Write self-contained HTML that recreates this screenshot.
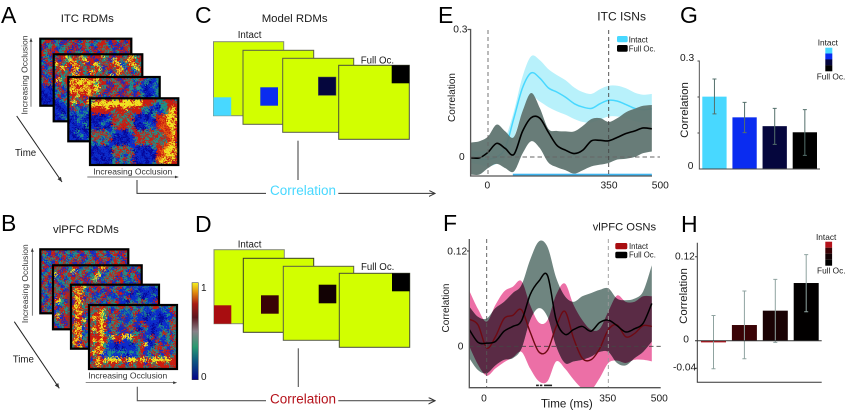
<!DOCTYPE html>
<html lang="en">
<head>
<meta charset="utf-8">
<title>ITC and vlPFC RDM correlation figure</title>
<style>
html,body{margin:0;padding:0;background:#fff;width:846px;height:411px;overflow:hidden}
svg{display:block}
text{font-family:"Liberation Sans",sans-serif;fill:#1a1a1a}
.letter{font-size:23px;fill:#000}
.title{font-size:11.4px}
.tick{font-size:10.2px}
.ax{font-size:10px}
.ann{font-size:9.7px}
.occ{font-size:8.5px;fill:#333}
.leg{font-size:7.8px}
.leg2{font-size:8.3px}
.ylab{font-size:11.4px}
</style>
</head>
<body>
<svg id="fig" xmlns="http://www.w3.org/2000/svg" width="846" height="411" viewBox="0 0 846 411">
<defs>
<linearGradient id="cbar" x1="0" y1="0" x2="0" y2="1">
<stop offset="0" stop-color="#f4f020"/><stop offset=".1" stop-color="#e08a10"/><stop offset=".22" stop-color="#a81a14"/><stop offset=".36" stop-color="#5c1620"/><stop offset=".5" stop-color="#8a8088"/><stop offset=".66" stop-color="#2a9a70"/><stop offset=".8" stop-color="#0f5a80"/><stop offset="1" stop-color="#04048a"/>
</linearGradient>
<marker id="ah" markerWidth="7" markerHeight="7" refX="6" refY="3" orient="auto"><path d="M0,0 L6,3 L0,6" fill="none" stroke="#333" stroke-width="1"/></marker>
<marker id="ahs" markerWidth="6" markerHeight="6" refX="5" refY="2.5" orient="auto"><path d="M0,0.4 L5,2.5 L0,4.6 Z" fill="#333"/></marker>
<clipPath id="clipE"><rect x="470" y="29" width="190" height="147"/></clipPath>
<clipPath id="clipF"><rect x="469" y="236" width="192" height="151.7"/></clipPath>
<filter id="rdmGrain" x="0" y="0" width="100%" height="100%" color-interpolation-filters="sRGB">
<feTurbulence type="fractalNoise" baseFrequency="0.62" numOctaves="2" seed="7" result="grain"/>
<feDisplacementMap in="SourceGraphic" in2="grain" scale="11" xChannelSelector="R" yChannelSelector="G"/>
</filter>
</defs>
<rect width="846" height="411" fill="#fff"/>

<text class="letter" x="1" y="23">A</text>
<text class="letter" x="1" y="231">B</text>
<text class="letter" x="195" y="23">C</text>
<text class="letter" x="195" y="232">D</text>
<text class="letter" x="438" y="23">E</text>
<text class="letter" x="443" y="231">F</text>
<text class="letter" x="680" y="23">G</text>
<text class="letter" x="681" y="232">H</text>

<text class="title" x="60.7" y="22">ITC RDMs</text>
<text class="title" x="53" y="233">vlPFC RDMs</text>
<text class="title" x="261.7" y="22">Model RDMs</text>

<g id="rdmA"></g>
<g id="rdmB"></g>

<g>
<text class="occ" transform="translate(27.5,75) rotate(-90)" text-anchor="middle">Increasing Occlusion</text>
<line x1="31" y1="106.7" x2="31" y2="38.3" stroke="#444" stroke-width=".7" marker-end="url(#ahs)"/>
<text class="occ" x="93.3" y="174.3">Increasing Occlusion</text>
<line x1="87.3" y1="177" x2="178.3" y2="177" stroke="#444" stroke-width=".7" marker-end="url(#ahs)"/>
<text class="ann" x="15" y="156">Time</text>
<line x1="16.7" y1="116" x2="62" y2="182" stroke="#222" stroke-width="1" marker-end="url(#ahs)"/>
</g>
<g>
<text class="occ" transform="translate(28,283.7) rotate(-90)" text-anchor="middle">Increasing Occlusion</text>
<line x1="32.3" y1="315.7" x2="32.3" y2="248.3" stroke="#444" stroke-width=".7" marker-end="url(#ahs)"/>
<text class="occ" x="88.3" y="378.3">Increasing Occlusion</text>
<line x1="85.7" y1="382.7" x2="176.7" y2="382.7" stroke="#444" stroke-width=".7" marker-end="url(#ahs)"/>
<text class="ann" x="12.7" y="362.7">Time</text>
<line x1="14.3" y1="321.7" x2="59.3" y2="388.3" stroke="#222" stroke-width="1" marker-end="url(#ahs)"/>
</g>

<g>
<rect x="192" y="282.7" width="6.3" height="97" fill="url(#cbar)" stroke="#333" stroke-width=".5"/>
<text class="ax" x="201" y="291">1</text>
<text class="ax" x="201" y="380">0</text>
</g>

<g stroke-width="1">
<text class="ann" x="237.7" y="38">Intact</text>
<text class="ann" x="360.7" y="63.3">Full Oc.</text>
<rect x="213.5" y="41.7" width="70.2" height="74" fill="#d2ff00" stroke="#858a78"/>
<rect x="213.5" y="97.3" width="17.7" height="18.4" fill="#48d8ff"/>
<rect x="243" y="50.3" width="70.7" height="74" fill="#d2ff00" stroke="#5a5f48"/>
<rect x="260.3" y="87.3" width="17.7" height="18.4" fill="#0a2cf0"/>
<rect x="282.7" y="58.3" width="71" height="74" fill="#d2ff00" stroke="#5a5f48"/>
<rect x="318.3" y="77" width="17.7" height="18.4" fill="#05063d" stroke="#5a5f48" stroke-width=".5"/>
<rect x="338.7" y="65.3" width="70.6" height="74" fill="#d2ff00" stroke="#4a4f38"/>
<rect x="391.7" y="65.3" width="17.7" height="18" fill="#000"/>
</g>
<g stroke-width="1">
<text class="ann" x="237.7" y="247.3">Intact</text>
<text class="ann" x="361" y="270">Full Oc.</text>
<rect x="214" y="249.7" width="70.3" height="74" fill="#d2ff00" stroke="#858a78"/>
<rect x="214" y="305.3" width="17.3" height="18.4" fill="#a80d10"/>
<rect x="243.3" y="258.3" width="70.4" height="74" fill="#d2ff00" stroke="#3a3f28"/>
<rect x="261" y="295.3" width="17.7" height="18.4" fill="#3a0306"/>
<rect x="283.3" y="266.3" width="70.4" height="74" fill="#d2ff00" stroke="#5a5f48"/>
<rect x="318.7" y="284.7" width="17.6" height="18.6" fill="#120204"/>
<rect x="339.3" y="273.3" width="70.4" height="74" fill="#d2ff00" stroke="#4a4f38"/>
<rect x="392" y="273.3" width="17.7" height="18" fill="#000"/>
</g>

<g fill="none" stroke="#333" stroke-width="1">
<path d="M137,180 V193.4 H266"/>
<line x1="298" y1="140.7" x2="298" y2="180" stroke="#666" stroke-width="1.3"/>
<line x1="338.3" y1="193.4" x2="435" y2="193.4" marker-end="url(#ah)"/>
</g>
<text x="270" y="195" style="font-size:13.5px;fill:#48d8ff">Correlation</text>
<g fill="none" stroke="#555" stroke-width="1.1">
<path d="M137.3,386.7 V400.7 H266"/>
<line x1="298.3" y1="348.3" x2="298.3" y2="387" stroke="#555"/>
<line x1="338.3" y1="400.7" x2="435" y2="400.7" marker-end="url(#ah)"/>
</g>
<text x="270" y="403.3" style="font-size:13.5px;fill:#b5121b">Correlation</text>

<g id="chartE"></g>
<g>
<line x1="470" y1="157" x2="660" y2="157" stroke="#666" stroke-width=".9" stroke-dasharray="4.5 3"/>
<line x1="488" y1="30" x2="488" y2="176" stroke="#666" stroke-width=".9" stroke-dasharray="4 3"/>
<line x1="608.7" y1="30" x2="608.7" y2="176" stroke="#444" stroke-width=".9" stroke-dasharray="4 3"/>
<path d="M467.5,29.5 H470.6 V176 H652" fill="none" stroke="#555" stroke-width="1.3"/>
<text class="tick" x="453.3" y="32.3">0.3</text>
<text class="tick" x="459" y="160">0</text>
<text class="tick" x="487.3" y="188.3" text-anchor="middle">0</text>
<text class="tick" x="609" y="188.3" text-anchor="middle">350</text>
<text class="tick" x="660.3" y="188.3" text-anchor="middle">500</text>
<text class="ax" transform="translate(455,97.5) rotate(-90)" text-anchor="middle">Correlation</text>
<text x="597.3" y="20.7" style="font-size:12px">ITC ISNs</text>
<rect x="617" y="36" width="10.7" height="6.3" rx="1.5" fill="#48d8ff"/>
<rect x="617" y="45" width="10.7" height="6.7" rx="1.5" fill="#000"/>
<text class="leg" x="628.7" y="42.3">Intact</text>
<text class="leg" x="628.7" y="51.3">Full Oc.</text>
</g>

<g id="chartF"></g>
<g>
<line x1="469" y1="346.3" x2="660.7" y2="346.3" stroke="#444" stroke-width=".9" stroke-dasharray="4.5 3"/>
<line x1="486.7" y1="239" x2="486.7" y2="388" stroke="#555" stroke-width=".9" stroke-dasharray="4 3"/>
<line x1="608.3" y1="239" x2="608.3" y2="388" stroke="#999" stroke-width=".9" stroke-dasharray="4 3"/>
<path d="M469.3,239 V387.7 H660.7 M467,251 H469.3" fill="none" stroke="#555" stroke-width="1.3"/>
<text class="tick" x="447.3" y="254.3">0.12</text>
<text class="tick" x="457.7" y="349.3">0</text>
<text class="tick" x="484" y="401.7" text-anchor="middle">0</text>
<text class="tick" x="607.7" y="401.7" text-anchor="middle">350</text>
<text class="tick" x="659.3" y="401.7" text-anchor="middle">500</text>
<text x="541" y="407.7" style="font-size:11.6px">Time (ms)</text>
<text class="ax" transform="translate(449,308) rotate(-90)" text-anchor="middle">Correlation</text>
<text x="592.7" y="230.7" style="font-size:11.2px">vlPFC OSNs</text>
<rect x="615.3" y="243" width="12" height="6.3" rx="1.5" fill="#a80d10"/>
<rect x="615.3" y="251.7" width="12" height="6.6" rx="1.5" fill="#000"/>
<text class="leg" x="629" y="249">Intact</text>
<text class="leg" x="629" y="257.7">Full Oc.</text>
</g>

<g id="chartG"></g>
<g>
<path d="M697.5,61 H699.3 V169 H820 M697.5,97 H699.3 M697.5,133 H699.3" fill="none" stroke="#444" stroke-width=".9"/>
<text class="tick" x="680" y="61">0.3</text>
<text class="tick" x="687.7" y="169">0</text>
<text class="ylab" transform="translate(688,110) rotate(-90)" text-anchor="middle">Correlation</text>
<text class="leg2" x="817.7" y="45.7">Intact</text>
<text class="leg2" x="816.7" y="79.3">Full Oc.</text>
<rect x="825.3" y="47.7" width="7" height="6" fill="#48d8ff"/>
<rect x="825.3" y="53.5" width="7" height="6" fill="#0a2cf0"/>
<rect x="825.3" y="59.4" width="7" height="6" fill="#05063d"/>
<rect x="825.3" y="65.3" width="7" height="6" fill="#000"/>
</g>

<g id="chartH"></g>
<g>
<path d="M697.3,242.7 V382.3 H821.7 M695,256.7 H697.3 M695,368.3 H697.3 M695,340.7 H821.7" fill="none" stroke="#333" stroke-width="1"/>
<text class="tick" x="675" y="259.3">0.12</text>
<text class="tick" x="683.3" y="342.7">0</text>
<text class="tick" x="673" y="370.7">-0.04</text>
<text class="ylab" transform="translate(687,296) rotate(-90)" text-anchor="middle">Correlation</text>
<text class="leg2" x="816" y="240">Intact</text>
<text class="leg2" x="817" y="273.3">Full Oc.</text>
<rect x="825.3" y="241.7" width="6.8" height="6" fill="#b5121b"/>
<rect x="825.3" y="247.7" width="6.8" height="6" fill="#3a0306"/>
<rect x="825.3" y="253.7" width="6.8" height="6" fill="#120204"/>
<rect x="825.3" y="259.7" width="6.8" height="6" fill="#000"/>
</g>
</svg>

<script>
/* ---------- time course data ---------- */
const timeMs = [-50,-25,0,25,50,75,100,125,150,175,200,225,250,275,300,325,350,375,400,425,450,475];

const itcIntactMean  = [0,-.005,-.005,0,.021,.091,.162,.197,.185,.162,.152,.140,.125,.117,.114,.125,.133,.131,.123,.114,.111,.113];
const itcIntactUpper = [.017,.013,.017,.025,.045,.107,.188,.236,.227,.206,.192,.180,.163,.152,.148,.159,.167,.167,.161,.151,.146,.148];
const itcIntactLower = [-.014,-.018,-.022,-.016,-.002,.045,.103,.141,.130,.117,.107,.099,.089,.082,.081,.088,.095,.095,.091,.084,.080,.080];
const itcFullMean    = [-.002,-.002,.011,.032,.020,.006,.060,.092,.091,.058,.027,.016,.008,.016,.038,.039,.038,.046,.055,.061,.068,.066];
const itcFullUpper   = [.034,.037,.048,.076,.060,.047,.107,.150,.115,.066,.061,.060,.060,.073,.089,.091,.082,.091,.105,.113,.120,.122];
const itcFullLower   = [-.041,-.041,-.026,-.016,-.026,-.034,.008,.037,.021,-.013,-.024,-.031,-.039,-.031,-.022,-.018,-.014,-.006,-.004,0,.009,.013];
const itcSignificant = [72,475];

const pfcIntactMean  = [.034,.027,-.002,.012,.035,.039,.046,.018,-.007,-.005,.025,.044,.010,-.015,-.017,-.003,.021,.027,.012,.016,.026,.025];
const pfcIntactUpper = [.070,.047,.031,.052,.069,.075,.082,.052,.030,.033,.065,.079,.052,.033,.021,.022,.044,.064,.056,.056,.063,.063];
const pfcIntactLower = [0,-.023,-.037,-.028,-.020,-.014,-.007,-.028,-.044,-.044,-.019,-.028,-.042,-.053,-.055,-.040,-.021,-.018,-.021,-.017,-.017,-.019];
const pfcFullMean    = [.021,.005,.004,.006,.019,.025,.032,.065,.082,.089,.033,.015,.021,.025,.019,.030,.033,.026,.018,.022,.029,.054];
const pfcFullUpper   = [.050,.037,.035,.048,.056,.067,.077,.109,.132,.125,.086,.063,.056,.063,.067,.071,.073,.060,.058,.060,.069,.102];
const pfcFullLower   = [-.015,-.030,-.034,-.024,-.017,-.015,-.003,.033,.048,.037,0,-.021,-.019,-.017,-.013,-.007,-.007,-.021,-.024,-.015,-.007,.006];
const pfcSignificant = [[142,150],[153,160],[165,188]];

/* ---------- bar data ---------- */
const occlusionLevels = ['intact','level-2','level-3','full-oc'];
const itcBarValues = [.201,.1435,.119,.102];
const itcBarHigh   = [.25,.185,.1685,.165];
const itcBarLow    = [.153,.101,.0685,.038];
const pfcBarValues = [-.0024,.0224,.0429,.0824];
const pfcBarHigh   = [.036,.071,.0876,.123];
const pfcBarLow    = [-.04,-.0257,-.0024,.0414];

/* ---------- RDM cell levels (0 low … 9 high) ---------- */
const itcRdm1 = ["377137173717371377173717","713731737137313773171737","173713371717371737317173","737173717337137173713717","7317","1737","3171","7137","1371","7137","3717","1737","1101","0110","1011","0101","1011"];
const itcRdm2 = ["377937793717793717737937","717397379771737197379737","973779737179373779137973","379717973737917737917397","737379173797373179737137","173737973173737917373773","7937","1737","3713","1371","3713","1137","0113","1011","1101","0131","1013"];
const itcRdm3 = ["797997797373717373371313","979979937717371731713013","797797797371737137310131","997979793717371731310113","779779737173717371731013","373717371317371737130131","797379","731737","173113","313131","101310","013101","101131","110103","013101","101310","110113"];
const itcRdm4 = ["377977997997997777337773","999999999999997773133777","777797777977773311033797","777777377737771303113897","101011737373101013778997","010113773737011010787979","101310737773101311778997","110101377737010131787897","373731311013737373378797","737373101011773737737897","373137010101377373373787","313731101011737373737897","101101373731101013778997","010110737373010101789979","011011373137110110778997","101010313731011010899797","110101373137101013797977"];

const pfcRdm1 = ["371737137317371373173717","731713731371731737137173","137371713737137173717317","713173737171373717137371","3717","7137","1373","3717","1737","7313","3717","1373","7137","3171","1737","7313","1737"];
const pfcRdm2 = ["737137713731797317373137","371739137317371373731713","917371737137913737137371","137137371739137371731371","713737137173713713713137","371371737137371371371713","7371","3717","1737","7931","3137","7173","1373","7917","3717","1371","7137"];
const pfcRdm3 = ["377937173711373113113113","797317371173711371011101","379737113711371101310131","797173137131113711301110","179737371373711031373117","797371713173711373711373","797371","379717","797137","177917","797371","379173","797317","379137","797371","971737","379717"];
const pfcRdm4 = ["373773137737313137731373","737937173131373113113173","377937371313711301101317","797931731711311013100113","737971373113717111101373","377973731737113710131137","797971371173701310113173","737931731711337110137313","777773977999771137131373","797973177113737101711317","737931101110137910371737","379731101011137113773173","797913313313137137317713","737113111101137131731737","179799999799979979999977","379737773717377173777377","737373737737377377377737"];

/* ---------- rendering ---------- */
const NS = 'http://www.w3.org/2000/svg';
const levelColors = ['#06069a','#0c2ccc','#1a5ac0','#1f9088','#3aa070','#7a9a80','#7a2a3a','#cc1c10','#e86010','#f2e420'];
function mk(tag, attrs, parent){
  const e = document.createElementNS(NS, tag);
  for (const k in attrs) e.setAttribute(k, attrs[k]);
  parent.appendChild(e);
  return e;
}
const xE = t => 488 + t * 0.3449;
const yE = v => 157 - v * 426.7;
const xF = t => 486.7 + t * 0.3476;
const yF = v => 346.3 - v * 794.3;
const yG = v => 169 - v * 360;
const yH = v => 340.7 - v * 700;

function curve(pts, move){
  let d = (move ? 'M' : 'L') + pts[0][0].toFixed(2) + ',' + pts[0][1].toFixed(2);
  for (let i = 0; i < pts.length - 1; i++){
    const p0 = pts[Math.max(i-1,0)], p1 = pts[i], p2 = pts[i+1], p3 = pts[Math.min(i+2,pts.length-1)];
    const c1x = p1[0] + (p2[0]-p0[0])/6, c1y = p1[1] + (p2[1]-p0[1])/6;
    const c2x = p2[0] - (p3[0]-p1[0])/6, c2y = p2[1] - (p3[1]-p1[1])/6;
    d += 'C' + [c1x,c1y,c2x,c2y,p2[0],p2[1]].map(n => n.toFixed(2)).join(',');
  }
  return d;
}
function points(vals, xf, yf){ return vals.map((v,i) => [xf(timeMs[i]), yf(v)]); }
function bandPath(up, lo, xf, yf){
  return curve(points(up,xf,yf), true) + curve(points(lo,xf,yf).reverse(), false) + 'Z';
}
function linePath(vals, xf, yf){ return curve(points(vals,xf,yf), true); }

/* Panel E */
const gE = document.getElementById('chartE');
const clipGE = mk('g', {'clip-path':'url(#clipE)'}, gE);
const bandE1 = mk('path', {d:bandPath(itcIntactUpper,itcIntactLower,xE,yE), fill:'#b8f1fb'}, clipGE);


const lineE1 = mk('path', {d:linePath(itcIntactMean,xE,yE), fill:'none', stroke:'#48d8ff', 'stroke-width':1.5}, clipGE);


const bandE2 = mk('path', {d:bandPath(itcFullUpper,itcFullLower,xE,yE), fill:'#5f7470', 'fill-opacity':.94}, clipGE);


const lineE2 = mk('path', {d:linePath(itcFullMean,xE,yE), fill:'none', stroke:'#000', 'stroke-width':1.6}, clipGE);


const sigE = mk('rect', {x:xE(itcSignificant[0]), y:173.7, width:xE(itcSignificant[1])-xE(itcSignificant[0]), height:2.2, fill:'#3fb4ee'}, gE);



/* Panel F */
const gF = document.getElementById('chartF');
const clipGF = mk('g', {'clip-path':'url(#clipF)'}, gF);
const fullBandD = bandPath(pfcFullUpper,pfcFullLower,xF,yF);
const intactBandD = bandPath(pfcIntactUpper,pfcIntactLower,xF,yF);
const bandF1 = mk('path', {d:intactBandD, fill:'#ec6fa6'}, clipGF);


const bandF2 = mk('path', {d:fullBandD, fill:'#6f8580'}, clipGF);


const overlapClip = mk('clipPath', {id:'fullBandClip'}, clipGF);
mk('path', {d:fullBandD}, overlapClip);
const bandF3 = mk('path', {d:intactBandD, fill:'#5a2b45', 'clip-path':'url(#fullBandClip)'}, clipGF);


const lineF1 = mk('path', {d:linePath(pfcIntactMean,xF,yF), fill:'none', stroke:'#6e0a12', 'stroke-width':1.4}, clipGF);


const lineF2 = mk('path', {d:linePath(pfcFullMean,xF,yF), fill:'none', stroke:'#000', 'stroke-width':1.5}, clipGF);


pfcSignificant.forEach(span => {
  const tick = mk('rect', {x:xF(span[0]), y:384.6, width:xF(span[1])-xF(span[0]), height:1.6, fill:'#222'}, gF);
  
  
});

/* Bars */
const itcBarFills = ['#48d8ff','#0a2cf0','#05063d','#000000'];
const pfcBarFills = ['#b5121b','#3a0306','#1a0204','#020000'];
function drawBars(group, vals, hi, lo, yf, fills, x0, step, w, errColor){
  vals.forEach((v,i) => {
    const x = x0 + i*step, top = Math.min(yf(v), yf(0)), h = Math.abs(yf(v)-yf(0));
    const bar = mk('rect', {x:x, y:top, width:w, height:Math.max(h,1.3), fill:fills[i]}, group);
    
    
    const cx = x + w/2;
    const err = mk('path', {d:`M${cx},${yf(hi[i])}V${yf(lo[i])}M${cx-2},${yf(hi[i])}H${cx+2}M${cx-2},${yf(lo[i])}H${cx+2}`, fill:'none', stroke:errColor, 'stroke-width':1}, group);
    
    
  });
}
drawBars(document.getElementById('chartG'), itcBarValues, itcBarHigh, itcBarLow, yG, itcBarFills, 702.3, 30.13, 24.3, '#54706c');
drawBars(document.getElementById('chartH'), pfcBarValues, pfcBarHigh, pfcBarLow, yH, pfcBarFills, 701, 30.9, 25, '#8fa3a0');

/* RDM panels */
function drawRdm(group, rows, x, y, w, h, base, name){
  const r = mk('rect', {x:x, y:y, width:w, height:h, fill:base}, group);
  
  
  const cellGroup = mk('g', {filter:'url(#rdmGrain)'}, group);
  
  
  const cols = Math.max(...rows.map(s => s.length));
  const cw = w/cols, ch = h/rows.length;
  rows.forEach((row,ri) => {
    for (let ci = 0; ci < row.length; ci++){
      const c = mk('rect', {x:x+ci*cw, y:y+ri*ch, width:cw+.2, height:ch+.2, fill:levelColors[+row[ci]]}, cellGroup);
      
      
    }
  });
  const b = mk('rect', {x:x, y:y, width:w, height:h, fill:'none', stroke:'#000', 'stroke-width':2.2}, group);
  
  
}
const gA = document.getElementById('rdmA');
drawRdm(gA, itcRdm1, 40.3, 38.7, 91, 67, '#123a90', 'itc-rdm-1');
drawRdm(gA, itcRdm2, 53.7, 54.3, 88.6, 67, '#123a90', 'itc-rdm-2');
drawRdm(gA, itcRdm3, 68.3, 77, 91.4, 64.3, '#123a90', 'itc-rdm-3');
drawRdm(gA, itcRdm4, 90, 98.3, 88.3, 66.7, '#123a90', 'itc-rdm-4');
const gB = document.getElementById('rdmB');
drawRdm(gB, pfcRdm1, 40.3, 249.3, 88, 64, '#7a3a3a', 'vlpfc-rdm-1');
drawRdm(gB, pfcRdm2, 53, 265.3, 88.7, 64, '#7a3a3a', 'vlpfc-rdm-2');
drawRdm(gB, pfcRdm3, 71, 284.7, 88, 64, '#7a3a3a', 'vlpfc-rdm-3');
drawRdm(gB, pfcRdm4, 89, 305, 88, 64, '#7a3a3a', 'vlpfc-rdm-4');
</script>
</body>
</html>
